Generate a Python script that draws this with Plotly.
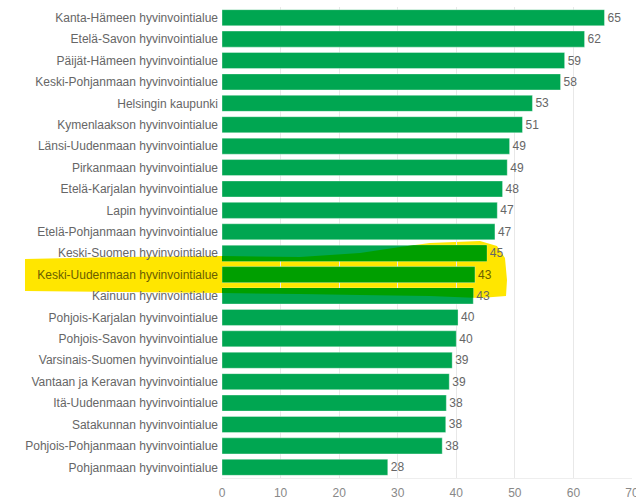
import plotly.graph_objects as go

categories = [
    "Kanta-Hämeen hyvinvointialue",
    "Etelä-Savon hyvinvointialue",
    "Päijät-Hämeen hyvinvointialue",
    "Keski-Pohjanmaan hyvinvointialue",
    "Helsingin kaupunki",
    "Kymenlaakson hyvinvointialue",
    "Länsi-Uudenmaan hyvinvointialue",
    "Pirkanmaan hyvinvointialue",
    "Etelä-Karjalan hyvinvointialue",
    "Lapin hyvinvointialue",
    "Etelä-Pohjanmaan hyvinvointialue",
    "Keski-Suomen hyvinvointialue",
    "Keski-Uudenmaan hyvinvointialue",
    "Kainuun hyvinvointialue",
    "Pohjois-Karjalan hyvinvointialue",
    "Pohjois-Savon hyvinvointialue",
    "Varsinais-Suomen hyvinvointialue",
    "Vantaan ja Keravan hyvinvointialue",
    "Itä-Uudenmaan hyvinvointialue",
    "Satakunnan hyvinvointialue",
    "Pohjois-Pohjanmaan hyvinvointialue",
    "Pohjanmaan hyvinvointialue",
]
values = [65.3, 61.9, 58.5, 57.8, 53.0, 51.3, 49.1, 48.7, 47.9, 47.0, 46.6,
          45.2, 43.2, 42.9, 40.3, 40.0, 39.3, 38.8, 38.3, 38.2, 37.6, 28.3]
highlight = "Keski-Uudenmaan hyvinvointialue"
x_ticks = [0, 10, 20, 30, 40, 50, 60, 70]

W, H = 636, 501
ML, MR, MT, MB = 222, 4, 7, 23
XMAX = 70
BARGAP = 0.25

GREEN = "#00a651"
HL_GREEN = "#009f00"
GRAY = "#666666"
HL_TEXT = "#6a5e00"
YELLOW = "#ffe600"

bar_colors = [HL_GREEN if c == highlight else GREEN for c in categories]
text_colors = [HL_TEXT if c == highlight else GRAY for c in categories]
tick_text = [
    f'<span style="color:{HL_TEXT}">{c}</span>' if c == highlight else c
    for c in categories
]

fig = go.Figure(
    go.Bar(
        x=values,
        y=categories,
        orientation="h",
        marker=dict(color=bar_colors, line=dict(color="rgba(255,255,255,0.35)", width=1)),
        text=values,
        texttemplate="%{x:.0f}",
        textposition="outside",
        textfont=dict(color=text_colors, size=12, family="Liberation Sans, Arial, sans-serif"),
        cliponaxis=False,
        hoverinfo="skip",
    )
)

PW = W - ML - MR
PH = H - MT - MB


def px2paper(px, py):
    return (px - ML) / PW, (H - MB - py) / PH


def to_path(pts_px):
    pts = [px2paper(x, y) for x, y in pts_px]
    return "M " + " L ".join(f"{x:.4f},{y:.4f}" for x, y in pts) + " Z"


def clip(poly, inside, intersect):
    out = []
    n = len(poly)
    for i in range(n):
        cur, prev = poly[i], poly[i - 1]
        if inside(cur):
            if not inside(prev):
                out.append(intersect(prev, cur))
            out.append(cur)
        elif inside(prev):
            out.append(intersect(prev, cur))
    return out


def hline(y0):
    def f(a, b):
        t = (y0 - a[1]) / (b[1] - a[1])
        return (a[0] + t * (b[0] - a[0]), y0)
    return f


def vline(x0):
    def f(a, b):
        t = (x0 - a[0]) / (b[0] - a[0])
        return (x0, a[1] + t * (b[1] - a[1]))
    return f


# hand-drawn highlighter stroke (pixel outline)
blob_px = [(25, 259), (120, 257), (222, 256), (300, 257), (360, 253), (400, 247),
           (430, 243), (480, 241), (497, 246), (505, 258), (507, 280), (506, 296),
           (480, 298), (430, 296), (360, 295), (300, 294), (222, 293), (120, 292),
           (25, 291)]
fig.add_shape(type="path", path=to_path(blob_px), xref="paper", yref="paper",
              fillcolor=YELLOW, line=dict(width=0), layer="below")

# highlighter tint over the neighbouring bars (multiply look)
band = PH / len(categories)
half = band * (1 - BARGAP) / 2
hi = categories.index(highlight)
for j in (hi - 1, hi + 1):
    cy = MT + band * (j + 0.5)
    top, bot = cy - half, cy + half
    xend = ML + values[j] / XMAX * PW
    poly = clip(blob_px, lambda p: p[1] >= top, hline(top))
    poly = clip(poly, lambda p: p[1] <= bot, hline(bot))
    poly = clip(poly, lambda p: p[0] >= ML, vline(ML))
    poly = clip(poly, lambda p: p[0] <= xend, vline(xend))
    if len(poly) >= 3:
        fig.add_shape(type="path", path=to_path(poly), xref="paper", yref="paper",
                      fillcolor=HL_GREEN, line=dict(width=0), layer="above")

fig.update_layout(
    width=W,
    height=H,
    margin=dict(l=ML, r=MR, t=MT, b=MB),
    paper_bgcolor="white",
    plot_bgcolor="rgba(0,0,0,0)",
    bargap=BARGAP,
    showlegend=False,
    font=dict(family="Liberation Sans, Arial, sans-serif", size=12, color=GRAY),
    xaxis=dict(
        range=[0, XMAX],
        tickvals=x_ticks,
        showgrid=True,
        gridcolor="#e8e8e8",
        gridwidth=1,
        zeroline=False,
        showline=True,
        linecolor="#eeeeee",
        tickfont=dict(color="#888888", size=12),
        ticks="",
        ticklabelstandoff=4,
        ticklabeloverflow="allow",
        automargin=False,
    ),
    yaxis=dict(
        autorange="reversed",
        tickvals=categories,
        ticktext=tick_text,
        showgrid=False,
        zeroline=False,
        ticks="",
        tickfont=dict(color=GRAY, size=12),
        ticklabelstandoff=3,
        automargin=False,
    ),
)

fig.write_html(
    "out.html",
    config={"displayModeBar": False},
    post_script="document.body.style.margin='0';document.body.style.overflow='hidden';",
)
